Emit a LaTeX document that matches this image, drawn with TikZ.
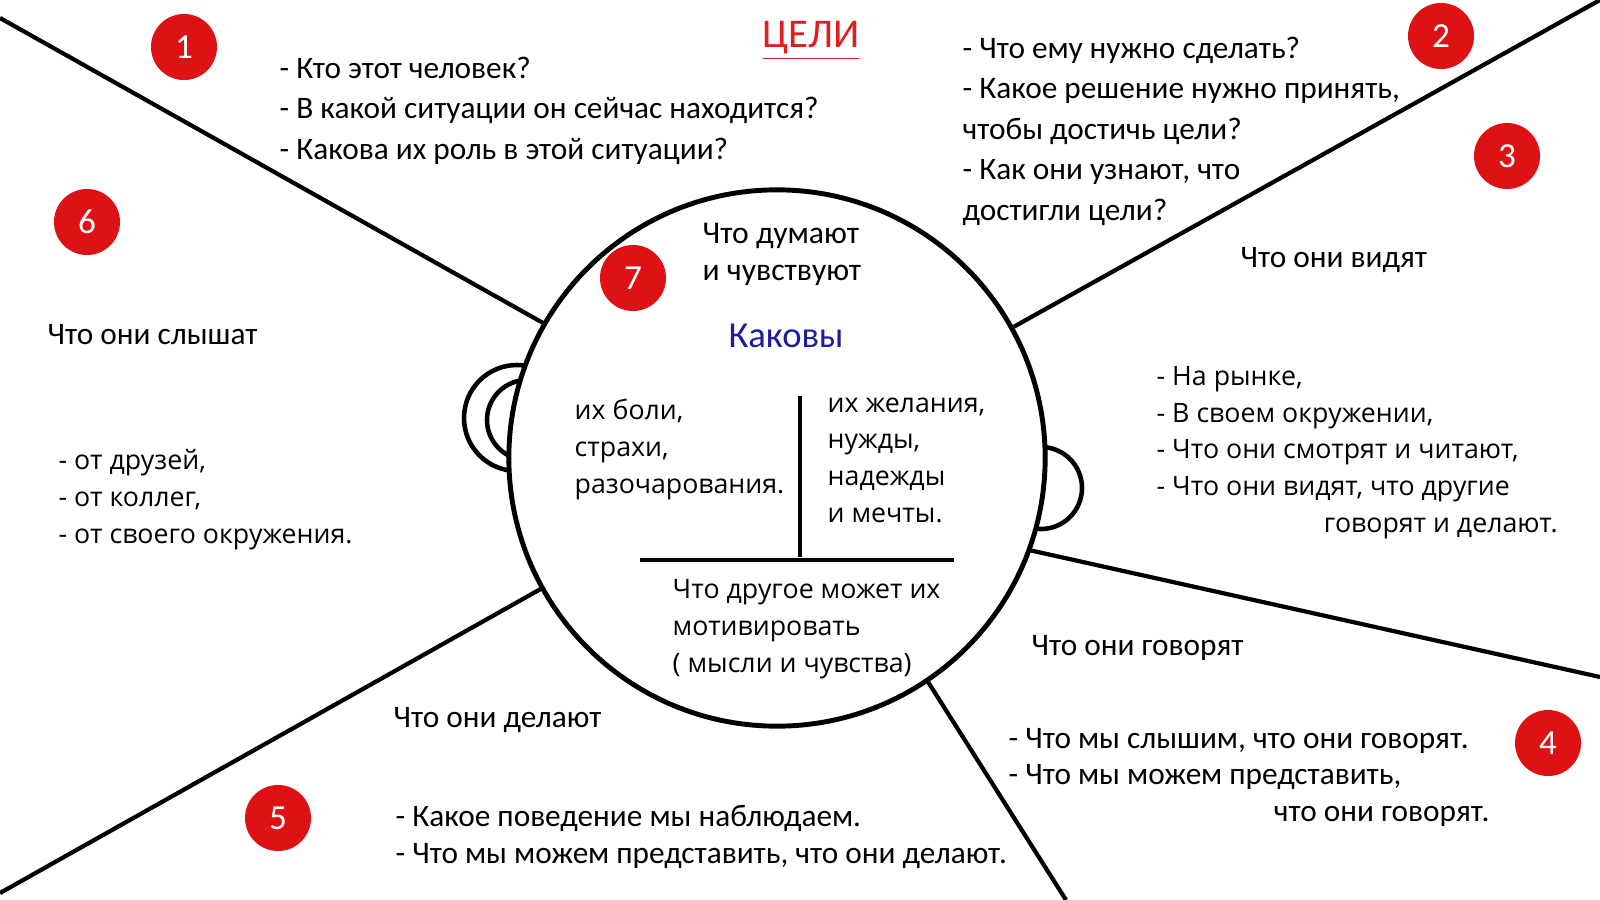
\documentclass[tikz,border=0pt]{standalone}
\usepackage{fontspec}
\setmainfont{Carlito}
\newfontfamily\segoe{Open Sans}
\usepackage{tikz}
\usetikzlibrary{positioning}
\definecolor{badgered}{RGB}{222,18,20}
\definecolor{goalred}{RGB}{225,30,30}
\definecolor{headblue}{RGB}{28,28,160}

\begin{document}
\begin{tikzpicture}[
  x=0.01cm, y=-0.01cm,
  spoke/.style={line width=1.2pt},
  ear/.style={line width=1.3pt},
  head/.style={circle, draw, fill=white, line width=1.4pt, minimum size=5.36cm, inner sep=0pt},
  badge/.style={circle, fill=badgered, text=white, minimum size=0.66cm, inner sep=0pt,
                font=\fontsize{10}{12}\selectfont},
  % nodes are placed at the baseline of their last line
  qtext/.style={anchor=base west, align=left, inner sep=0pt, font=\fontsize{8.9}{11.5}\selectfont},
  wtext/.style={anchor=base west, align=left, inner sep=0pt, font=\segoe\fontsize{7.6}{10.4}\selectfont},
]
\fill[white] (0,0) rectangle (1600,900);
\useasboundingbox (0,0) rectangle (1600,900);

%% Ears (the head covers their inner half)
\draw[ear] (517,418) circle (53);
\draw[ear] (527,420) circle (40);
\draw[ear] (1041,488) circle (41);

%% Head
\node[head] (head) at (777,458) {};
\draw[line width=0.9pt] (800,396) -- (800,557);
\draw[line width=0.9pt] (640,560) -- (954,560);

%% Spokes
\coordinate (tl) at (0,18);
\coordinate (tr) at (1600,0);
\coordinate (rr) at (1600,677);
\coordinate (br) at (1066,900);
\coordinate (bl) at (0,893);
\draw[spoke] (head.150.2) -- (tl);
\draw[spoke] (head.29.2) -- (tr);
\draw[spoke] (head.-20.7) -- (rr);
\draw[spoke] (head.-56) -- (br);
\draw[spoke] (head.209.8) -- (bl);

%% Goals
\node[inner sep=0pt, text=goalred, font=\fontsize{11.6}{14}\selectfont] (goals) at (811,41) {\underline{ЦЕЛИ}};
\node[qtext] (who) at (279,159)
  {- Кто этот человек?\\- В какой ситуации он сейчас находится?\\- Какова их роль в этой ситуации?};
\node[qtext] (need) at (962,220)
  {- Что ему нужно сделать?\\- Какое решение нужно принять,\\чтобы достичь цели?\\- Как они узнают, что\\достигли цели?};

%% See
\node[qtext] (see) at (1240,267) {Что они видят};
\node[wtext] (seelist) at (1156,532)
  {- На рынке,\\- В своем окружении,\\- Что они смотрят и читают,\\- Что они видят, что другие\\\hspace*{1.67cm}говорят и делают.};

%% Hear
\node[qtext] (hear) at (47,344) {Что они слышат};
\node[wtext] (hearlist) at (58,543) {- от друзей,\\- от коллег,\\- от своего окружения.};

%% Do
\node[qtext] (do) at (393,727) {Что они делают};
\node[qtext, font=\fontsize{8.9}{10.3}\selectfont] (dolist) at (395,863)
  {- Какое поведение мы наблюдаем.\\- Что мы можем представить, что они делают.};

%% Say
\node[qtext] (say) at (1031,655) {Что они говорят};
\node[qtext, font=\fontsize{8.9}{10.3}\selectfont] (saylist) at (1008,821)
  {- Что мы слышим, что они говорят.\\- Что мы можем представить,\\\hspace*{2.65cm}что они говорят.};

%% Think and feel
\node[qtext, font=\fontsize{9}{10.5}\selectfont] (think) at (702,280) {Что думают\\и чувствуют};
\node[inner sep=0pt, text=headblue, font=\fontsize{10.4}{13}\selectfont] (what) at (786,336) {Каковы};
\node[wtext] (pains) at (574,493) {их боли,\\страхи,\\разочарования.};
\node[wtext] (gains) at (827,522) {их желания,\\нужды,\\надежды\\и мечты.};
\node[wtext] (motive) at (672,672) {Что другое может их\\мотивировать\\( мысли и чувства)};

%% Badges
\node[badge] (b1) at (184,47) {1};
\node[badge] (b2) at (1441,36) {2};
\node[badge] (b3) at (1507,156) {3};
\node[badge] (b4) at (1548,743) {4};
\node[badge] (b5) at (278,818) {5};
\node[badge] (b6) at (87,222) {6};
\node[badge] (b7) at (633,278) {7};

\end{tikzpicture}
\end{document}
